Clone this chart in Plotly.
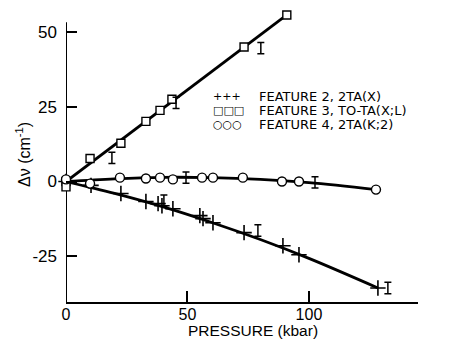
import plotly.graph_objects as go

# ---- data ----
# Feature 2, 2TA(X)  (plus markers)
f2_p = [0, 10.3, 22.6, 32.9, 37.9, 39.5, 44.0, 55.1, 56.4, 60.5, 73.3, 89.3, 95.9, 128.4]
f2_v = [0, -1.3, -4.0, -6.7, -7.4, -8.1, -9.1, -11.4, -12.4, -13.8, -17.1, -21.5, -24.5, -35.6]
f2_err_p = [40.3, 79.0, 132.5]
f2_err_v = [-6.4, -16.4, -35.6]
f2_curve_p = [0, 20, 40, 60, 80, 100, 128.4]
f2_curve_v = [0, -4.0, -8.5, -13.7, -19.4, -25.7, -35.6]

# Feature 3, TO-TA(X;L)  (square markers)
f3_p = [0, 0, 9.9, 22.6, 32.9, 38.7, 43.6, 73.3, 90.9]
f3_v = [0, -1.8, 7.7, 12.8, 20.1, 23.8, 27.5, 45.0, 55.7]
f3_err_p = [18.9, 45.3, 80.2]
f3_err_v = [7.9, 26.3, 44.6]
f3_curve_p = [0, 90.9]
f3_curve_v = [0, 55.7]

# Feature 4, 2TA(K;2)  (circle markers)
f4_p = [0, 9.9, 22.2, 32.9, 38.7, 44.0, 56.0, 60.5, 72.8, 88.9, 95.9, 127.6]
f4_v = [0.7, -0.7, 1.3, 1.0, 1.3, 0.7, 1.3, 1.3, 1.3, 0, 0, -2.7]
f4_err_p = [49.4, 102.5]
f4_err_v = [1.3, -0.3]
f4_curve_p = [0, 20, 40, 60, 80, 100, 127.6]
f4_curve_v = [0, 0.9, 1.4, 1.3, 0.7, -0.4, -2.7]

x_ticks = [0, 50, 100]
x_tick_text = ["0", "50", "100"]
y_ticks = [-25, 0, 25, 50]
y_tick_text = ["-25", "0", "25", "50"]
y_axis_top = 53.3

legend_symbols = ["+++", "\u25a1\u25a1\u25a1", "\u25cb\u25cb\u25cb"]
legend_labels = ["FEATURE 2, 2TA(X)", "FEATURE 3, TO-TA(X;L)", "FEATURE 4, 2TA(K;2)"]

FONT = "Liberation Sans, Arial, sans-serif"
LFONT = "DejaVu Sans, sans-serif"
W, H = 451, 341
ML, MR, MT, MB = 66, 33, 12, 39
Y_RANGE = [-40.3, 56.7]

fig = go.Figure()

line_style = dict(color="black", width=2.8)
for cx, cy in [(f2_curve_p, f2_curve_v), (f3_curve_p, f3_curve_v), (f4_curve_p, f4_curve_v)]:
    fig.add_trace(go.Scatter(x=cx, y=cy, mode="lines", line=dict(line_style, shape="spline"),
                             hoverinfo="skip", cliponaxis=False))

fig.add_trace(go.Scatter(x=f2_p, y=f2_v, mode="markers", cliponaxis=False,
                         marker=dict(symbol="cross-thin-open", size=11, color="black",
                                     line=dict(color="black", width=1.6))))
fig.add_trace(go.Scatter(x=f3_p, y=f3_v, mode="markers", cliponaxis=False,
                         marker=dict(symbol="square", size=8, color="white",
                                     line=dict(color="black", width=1.4))))
fig.add_trace(go.Scatter(x=f4_p, y=f4_v, mode="markers", cliponaxis=False,
                         marker=dict(symbol="circle", size=9, color="white",
                                     line=dict(color="black", width=1.4))))

for ex, ey in [(f2_err_p, f2_err_v), (f3_err_p, f3_err_v), (f4_err_p, f4_err_v)]:
    fig.add_trace(go.Scatter(x=ex, y=ey, mode="markers", cliponaxis=False,
                             marker=dict(size=1, color="rgba(0,0,0,0)"),
                             error_y=dict(type="constant", value=1.9, width=3.5,
                                          thickness=1.5, color="black")))

# left axis line (stops below the top of the plotting area, as in the reference)
fig.add_shape(type="line", xref="x", yref="y", x0=0, x1=0, y0=Y_RANGE[0], y1=y_axis_top,
              line=dict(color="black", width=2), layer="below")

# manual legend
PH = H - MT - MB
PW = W - ML - MR
for i, (sym, lab) in enumerate(zip(legend_symbols, legend_labels)):
    ypx = 96 + i * 14
    yp = 1 - (ypx - MT) / PH
    fig.add_annotation(xref="paper", yref="paper", x=(211 - ML) / PW, y=yp,
                       text=sym, showarrow=False, xanchor="left", yanchor="middle",
                       font=dict(family=LFONT, size=11, color="#000000"))
    fig.add_annotation(xref="paper", yref="paper", x=(257 - ML) / PW, y=yp,
                       text=lab, showarrow=False, xanchor="left", yanchor="middle",
                       font=dict(family=LFONT, size=13, color="#000000"))

# axis titles
fig.add_annotation(xref="paper", yref="paper", x=(253 - ML) / PW,
                   y=-(H - (H - MB)) / PH,
                   text="PRESSURE (kbar)", showarrow=False, xanchor="center", yanchor="bottom",
                   font=dict(family=FONT, size=15.5, color="black"))
fig.add_annotation(xref="paper", yref="paper", x=-(66 - 23) / PW,
                   y=1 - (155 - MT) / PH,
                   text="\u0394\u03bd (cm<sup>-1</sup>)", showarrow=False, textangle=-90,
                   xanchor="center", yanchor="middle",
                   font=dict(family=FONT, size=16, color="black"))

fig.update_xaxes(range=[0, 144.9], tickvals=x_ticks, ticktext=x_tick_text,
                 ticks="inside", ticklen=11, tickwidth=1.6, tickcolor="black",
                 showline=True, linecolor="black", linewidth=2, showgrid=False, zeroline=False,
                 ticklabelstandoff=-3,
                 tickfont=dict(family=FONT, size=16, color="black"))
fig.update_yaxes(range=Y_RANGE, tickvals=y_ticks, ticktext=y_tick_text,
                 ticks="inside", ticklen=11, tickwidth=1.6, tickcolor="black",
                 showline=False, showgrid=False, zeroline=False,
                 ticklabelstandoff=8,
                 tickfont=dict(family=FONT, size=17, color="black"))

fig.update_layout(width=W, height=H, margin=dict(l=ML, r=MR, t=MT, b=MB),
                  paper_bgcolor="white", plot_bgcolor="white", showlegend=False,
                  font=dict(family=FONT, color="black"))

fig.write_html("out.html")
